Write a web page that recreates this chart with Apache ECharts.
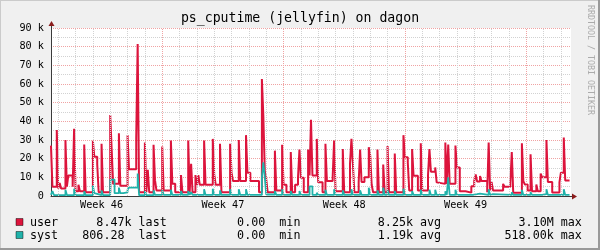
<!DOCTYPE html>
<html><head><meta charset="utf-8">
<script src="https://cdn.jsdelivr.net/npm/echarts@6/dist/echarts.min.js"></script>
<style>html,body{margin:0;padding:0;background:#f0f0f0}#c{width:600px;height:250px}</style>
</head><body><div id="c"></div>
<script>
const titleText = 'ps_cputime (jellyfin) on dagon';
const watermarkText = 'RRDTOOL / TOBI OETIKER';
const weekLabels = ['Week 46', 'Week 47', 'Week 48', 'Week 49'];
const weekLabelHours = [70, 238, 406, 574];
const weekStartHours = [154, 322, 490, 658];
const seriesNames = ['user', 'syst'];
const seriesColors = ['#DC143C', '#20B2AA'];
const statLabels = ['last', 'min', 'avg', 'max'];
const userStats = [['8.47', 'k'], ['0.00', ''], ['8.25', 'k'], ['3.10', 'M']];
const systStats = [['806.28', ''], ['0.00', ''], ['1.19', 'k'], ['518.00', 'k']];

// hours since start of window (segment start), value
const userHours = [
  0,2,8,10,12,14,20,22,24,30,
  32,34,38,40,46,48,58,60,64,66,
  70,72,82,84,86,94,96,106,108,118,
  120,122,130,132,134,136,142,144,146,154,
  156,166,168,172,180,182,190,192,194,196,
  200,202,204,206,212,214,224,226,228,234,
  236,248,250,252,260,262,270,272,276,288,
  292,294,296,298,300,310,312,316,318,320,
  322,326,332,334,338,342,344,346,350,356,
  358,360,362,368,370,376,380,382,390,392,
  394,404,406,414,416,418,420,426,428,430,
  434,440,442,444,446,452,454,460,462,466,
  468,476,478,488,490,494,496,500,502,508,
  512,514,522,524,526,532,534,536,546,548,
  550,552,560,562,566,574,582,586,588,590,
  594,596,604,606,608,610,612,618,620,626,
  628,636,638,640,652,654,656,660,664,666,
  672,674,678,680,686,688,694,704,706,710,
  712,718];
const userValues = [
  27000,5000,35400,4000,7000,4000,30000,5000,11000,5000,
  36000,2500,6000,2500,27600,2000,29600,21000,17000,2000,
  28000,2000,43400,25000,6500,33600,5500,32600,14300,31000,
  81400,2000,28700,2000,14000,2000,27400,8500,3000,26500,
  3000,29700,6500,2000,11200,2000,29700,2000,17300,2000,
  11200,6000,11200,6000,29700,6000,30600,11700,6000,28000,
  2000,28000,12500,8000,30000,8000,32600,12500,8000,2000,
  62700,42800,13500,9000,2000,24300,3000,4000,3000,27400,
  6000,2000,23600,2000,6000,9800,24900,9800,2000,24900,
  11000,40900,11000,30600,7300,2000,28000,8000,10000,29700,
  2500,25200,2000,17300,30600,17300,2000,7300,24900,7500,
  10000,26100,21600,6000,2000,24900,2000,16900,2000,26800,
  2000,22800,2000,32600,20700,18000,3000,25200,10800,3000,
  28200,3000,11000,25200,13000,15300,7300,6500,28700,6500,
  27600,6500,27000,15300,2500,1800,5200,8000,11600,7800,
  10700,8000,2000,28700,3000,7500,3000,3600,3000,6500,
  5000,7000,23600,1800,28200,8000,6200,3000,22300,2500,
  6200,2500,12000,10000,30000,7500,1900,7300,12500,31300,
  8300,8300];

const systHours = [
  0,2,4,20,22,32,34,46,48,58,
  60,62,70,72,82,88,94,96,100,106,
  108,120,122,130,132,142,144,154,156,166,
  168,180,182,190,192,194,196,212,214,224,
  226,234,236,248,250,260,262,270,272,292,
  294,296,298,310,312,320,322,332,334,344,
  346,358,362,368,370,380,382,392,394,404,
  406,416,418,428,430,440,442,452,454,460,
  462,466,468,476,478,488,490,500,502,512,
  514,524,526,532,534,546,548,550,552,560,
  562,584,590,594,596,606,608,610,612,638,
  640,652,654,664,666,680,686,688,694,696,
  710,712,718];
const systValues = [
  600,2700,500,3400,500,3900,500,2500,500,5600,
  1500,500,3000,500,8800,1500,4500,1500,2000,3400,
  4500,12000,400,2700,500,3000,600,3400,600,3400,
  600,2700,600,2700,600,2000,600,3600,600,3900,
  600,3000,600,3600,600,3600,600,3600,600,10000,
  18000,10000,800,2700,600,3600,600,2700,600,2700,
  600,5200,600,1800,600,3400,600,3600,600,3000,
  600,3600,600,3000,600,4400,600,3000,600,4400,
  600,3000,600,2700,600,3900,600,2700,600,3400,
  600,3400,600,3400,600,2500,600,10000,600,3400,
  600,1000,1300,2000,600,3600,600,1000,600,2000,
  600,3400,600,2000,600,1000,3600,600,1000,600,
  3600,600,600];

const X_MAX = 720, Y_MAX = 90000, Y_STEP = 10000;

// day grid lines, derived from week boundaries
const dayHours = [];
for (let h = weekStartHours[0] % 24; h < X_MAX; h += 24) {
  if (weekStartHours.indexOf(h) < 0) dayHours.push(h);
}

function legendStats(stats) {
  let s = '';
  stats.forEach(function (st, k) {
    const field = st[0] + (st[1] || ' ');
    const end = 15 + 20 * k;
    s = s.padEnd(end - field.length) + field + ' ' + statLabels[k];
  });
  return s;
}

const MONO = 'DejaVu Sans Mono';
const GRID = { left: 51, right: 29, top: 28, bottom: 54 };
const plotBottom = 250 - GRID.bottom, plotRight = 600 - GRID.right;

const chart = echarts.init(document.getElementById('c'), null, { renderer: 'canvas' });
const minorGrid = { color: '#d2d2d2', type: [1, 1], width: 1 };
const majorGrid = { color: '#f0a3a3', type: [1, 1], width: 1 };

chart.setOption({
  animation: false,
  backgroundColor: '#f0f0f0',
  grid: Object.assign({ show: true, backgroundColor: '#ffffff', borderWidth: 0, containLabel: false, outerBoundsMode: 'none' }, GRID),
  xAxis: {
    type: 'value', min: 0, max: X_MAX,
    axisLine: { show: true, onZero: false, lineStyle: { color: '#3a3a3a', width: 1 } },
    axisTick: { show: false },
    splitLine: { show: false },
    axisLabel: {
      customValues: weekLabelHours,
      formatter: function (v) { const i = weekLabelHours.indexOf(v); return i >= 0 ? weekLabels[i] : ''; },
      fontFamily: MONO, fontSize: 10.2, color: '#000', margin: 4
    }
  },
  yAxis: {
    type: 'value', min: 0, max: Y_MAX, interval: Y_STEP,
    axisLine: { show: true, lineStyle: { color: '#3a3a3a', width: 1 } },
    axisTick: { show: false },
    axisLabel: {
      formatter: function (v) { return v === 0 ? '0' : (v / 1000) + ' k'; },
      fontFamily: MONO, fontSize: 10.2, color: '#000', margin: 7
    },
    splitLine: { show: true, lineStyle: majorGrid },
    minorTick: { show: false, splitNumber: 2 },
    minorSplitLine: { show: true, lineStyle: minorGrid }
  },
  series: [
    {
      type: 'line', data: [], silent: true, z: 1,
      markLine: {
        silent: true, symbol: ['none', 'none'], label: { show: false }, animation: false,
        emphasis: { disabled: true },
        data: dayHours.map(function (h) { return { xAxis: h, lineStyle: minorGrid }; })
          .concat(weekStartHours.map(function (h) { return { xAxis: h, lineStyle: majorGrid }; }))
      }
    },
    {
      name: seriesNames[0], type: 'line', step: 'end', showSymbol: false, z: 2,
      lineStyle: { color: seriesColors[0], width: 2 },
      itemStyle: { color: seriesColors[0] },
      data: userHours.map(function (h, i) { return [h, userValues[i]]; })
    },
    {
      name: seriesNames[1], type: 'line', step: 'end', showSymbol: false, z: 3,
      lineStyle: { color: seriesColors[1], width: 1.8 },
      itemStyle: { color: seriesColors[1] },
      data: systHours.map(function (h, i) { return [h, systValues[i]]; })
    }
  ],
  graphic: [
    // frame
    { type: 'line', shape: { x1: 0.5, y1: 0, x2: 0.5, y2: 250 }, style: { stroke: '#cbcbcb', lineWidth: 1 } },
    { type: 'line', shape: { x1: 0, y1: 0.5, x2: 600, y2: 0.5 }, style: { stroke: '#cbcbcb', lineWidth: 1 } },
    { type: 'line', shape: { x1: 599, y1: 0, x2: 599, y2: 250 }, style: { stroke: '#999999', lineWidth: 2 } },
    { type: 'line', shape: { x1: 0, y1: 249, x2: 600, y2: 249 }, style: { stroke: '#999999', lineWidth: 2 } },
    // axis arrows
    { type: 'line', shape: { x1: GRID.left + 0.5, y1: GRID.top, x2: GRID.left + 0.5, y2: GRID.top - 3 }, style: { stroke: '#3a3a3a', lineWidth: 1 } },
    { type: 'polygon', shape: { points: [[GRID.left - 2.5, GRID.top - 2], [GRID.left + 3.5, GRID.top - 2], [GRID.left + 0.5, GRID.top - 7]] }, style: { fill: '#8b1c1c' } },
    { type: 'line', shape: { x1: plotRight, y1: plotBottom + 0.5, x2: plotRight + 2, y2: plotBottom + 0.5 }, style: { stroke: '#3a3a3a', lineWidth: 1 } },
    { type: 'polygon', shape: { points: [[plotRight + 1, plotBottom - 2.5], [plotRight + 1, plotBottom + 3.5], [plotRight + 6, plotBottom + 0.5]] }, style: { fill: '#8b1c1c' } },
    // title
    { type: 'text', x: 300, y: 19, style: { text: titleText, font: '13.2px "' + MONO + '"', fill: '#000', align: 'center', verticalAlign: 'middle' } },
    // watermark
    { type: 'text', x: 590, y: 60, rotation: -Math.PI / 2, style: { text: watermarkText, font: '8.3px "' + MONO + '"', fill: '#ababab', align: 'center', verticalAlign: 'middle' } },
    // legend
    { type: 'rect', shape: { x: 16, y: 218.5, width: 7, height: 7 }, style: { fill: seriesColors[0], stroke: 'rgba(0,0,0,0.45)', lineWidth: 1 } },
    { type: 'rect', shape: { x: 16, y: 231.5, width: 7, height: 7 }, style: { fill: seriesColors[1], stroke: 'rgba(0,0,0,0.45)', lineWidth: 1 } },
    { type: 'text', x: 30, y: 222.5, style: { text: seriesNames[0], font: '11.7px "' + MONO + '"', fill: '#000', align: 'left', verticalAlign: 'middle' } },
    { type: 'text', x: 30, y: 235.5, style: { text: seriesNames[1], font: '11.7px "' + MONO + '"', fill: '#000', align: 'left', verticalAlign: 'middle' } },
    { type: 'text', x: 26, y: 222.5, style: { text: legendStats(userStats), font: '11.7px "' + MONO + '"', fill: '#000', align: 'left', verticalAlign: 'middle' } },
    { type: 'text', x: 26, y: 235.5, style: { text: legendStats(systStats), font: '11.7px "' + MONO + '"', fill: '#000', align: 'left', verticalAlign: 'middle' } }
  ]
});
</script>
</body></html>
